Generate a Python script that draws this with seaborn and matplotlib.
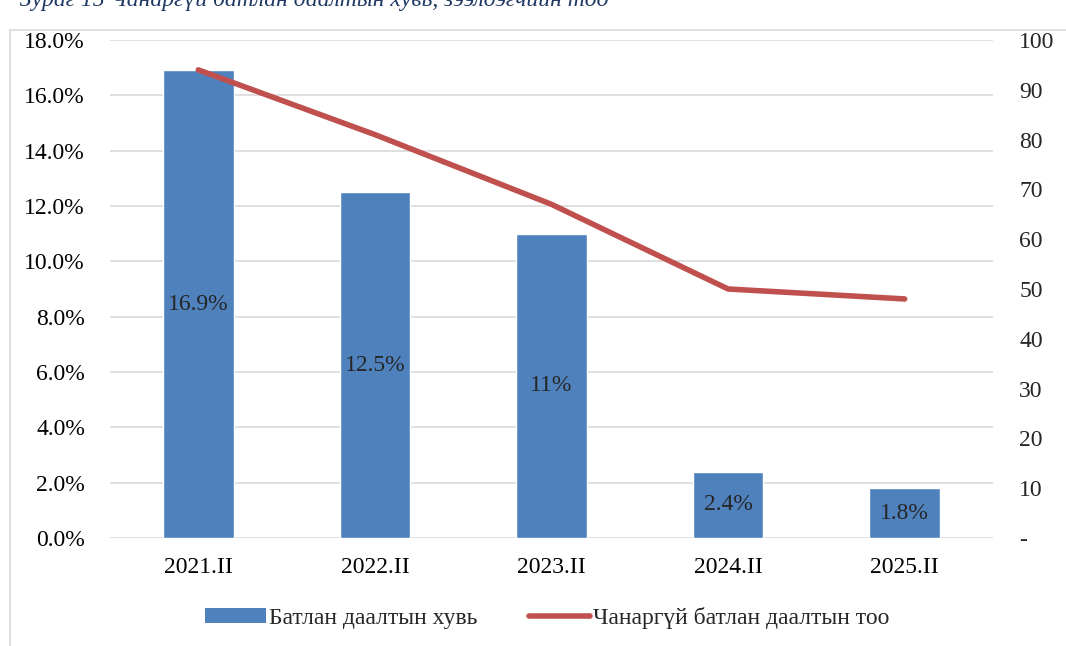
import matplotlib
matplotlib.use("Agg")
import matplotlib.pyplot as plt
import matplotlib.ticker as mticker
from matplotlib.patches import Rectangle, Patch
from matplotlib.lines import Line2D
import seaborn as sns
import pandas as pd

# data
periods = ["2021.II", "2022.II", "2023.II", "2024.II", "2025.II"]
share_pct = [16.9, 12.5, 11.0, 2.4, 1.8]
share_labels = ["16.9%", "12.5%", "11%", "2.4%", "1.8%"]
bad_count = [94, 81, 67, 50, 48]

bar_name = "Батлан даалтын хувь"
line_name = "Чанаргүй батлан даалтын тоо"
title = "Зураг 15 Чанаргүй батлан даалтын хувь, зээлдэгчийн тоо"

df = pd.DataFrame({"period": periods, "share": share_pct, "count": bad_count})

sns.set_style("white")
plt.rcParams["font.family"] = ["Liberation Serif", "DejaVu Serif"]

bar_color = "#4f81bd"
line_color = "#c0504d"
grid_color = "#d9d9d9"
fs = 17

fig = plt.figure(figsize=(10.66, 6.46), dpi=100)
ax = fig.add_axes([0.1032, 0.1672, 0.8283, 0.7709])

sns.barplot(data=df, x="period", y="share", color=bar_color, width=0.4,
            saturation=1, ax=ax, zorder=2)
ax.set_ylim(0, 18)
ax.set_xlim(-0.5, 4.5)
ax.yaxis.set_major_locator(mticker.MultipleLocator(2))
ax.yaxis.set_major_formatter(mticker.FuncFormatter(lambda v, p: f"{v:.1f}%"))
ax.grid(axis="y", color=grid_color, linewidth=1.2, zorder=0)
ax.set_axisbelow(True)
for s in ax.spines.values():
    s.set_visible(False)
ax.set_xlabel("")
ax.set_ylabel("")
ax.tick_params(axis="both", length=0, labelsize=fs, colors="black")
ax.tick_params(axis="y", pad=18)
ax.tick_params(axis="x", pad=14)

# value labels centred inside the bars
for i, (v, lab) in enumerate(zip(share_pct, share_labels)):
    ax.text(i, v / 2, lab, ha="center", va="center", fontsize=fs, zorder=4)

ax2 = ax.twinx()
sns.lineplot(data=df, x="period", y="count", color=line_color, linewidth=4,
             ax=ax2, zorder=3, sort=False)
ax2.set_ylim(0, 100)
ax2.set_xlim(-0.5, 4.5)
ax2.yaxis.set_major_locator(mticker.MultipleLocator(10))
ax2.yaxis.set_major_formatter(mticker.FuncFormatter(lambda v, p: "-" if v == 0 else f"{v:.0f}"))
for s in ax2.spines.values():
    s.set_visible(False)
ax2.set_ylabel("")
ax2.set_xlabel("")
ax2.tick_params(axis="y", length=0, labelsize=fs, pad=19)
ax2.grid(False)

handles = [Patch(facecolor=bar_color, edgecolor="none"),
           Line2D([0], [0], color=line_color, linewidth=4, solid_capstyle="round")]
fig.legend(handles, [bar_name, line_name], loc="center", bbox_to_anchor=(0.513, 0.043),
           ncol=2, frameon=False, fontsize=fs, handlelength=2.6, handleheight=0.6,
           handletextpad=0.1, columnspacing=2.2)

# chart-area frame, open at the right and bottom as in the crop
fig.patches.append(Rectangle((10 / 1066, -0.1), 1.2, 1 - 30 / 646 + 0.1,
                             transform=fig.transFigure, facecolor="none",
                             edgecolor=grid_color, linewidth=1.2))

fig.text(20 / 1066, 1 - 6 / 646, title, ha="left", va="baseline", fontsize=fs,
         style="italic", color="#1f3864")

fig.savefig("out.png", dpi=100)
